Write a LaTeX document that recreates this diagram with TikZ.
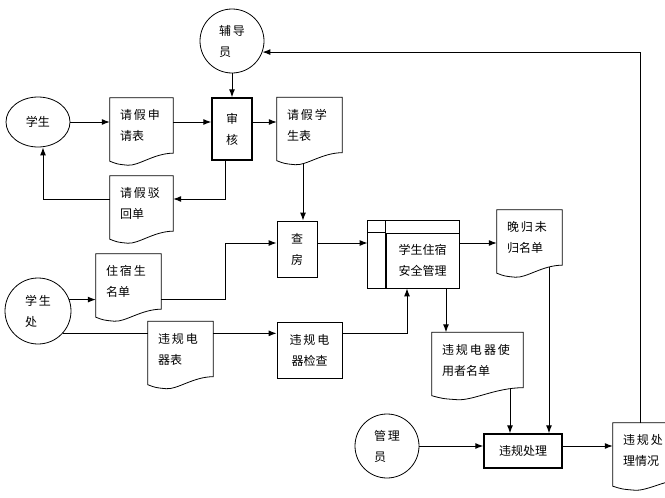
\documentclass[tikz,border=0pt]{standalone}
\usepackage{fontspec}
\newfontfamily\cjk{Noto Sans CJK SC}
\usetikzlibrary{shapes.geometric,calc,arrows.meta}

\begin{document}
\begin{tikzpicture}[x=1pt,y=-1pt,font=\cjk\fontsize{12pt}{21pt}\selectfont,
   execute at begin node={\spaceskip=2pt\relax},
   >={Latex[length=8pt,width=6pt]},
   box/.style={draw,line width=0.8pt,align=center,inner sep=0pt},
   circ/.style={draw,line width=0.8pt,circle,minimum size=#1,inner sep=0pt,align=left},
   doc/.style={text width=#1,inner xsep=10pt,inner ysep=0pt,minimum height=55pt,align=left,
      append after command={\pgfextra{
         \draw[line width=0.8pt] let \p1=(\tikzlastnode.south west), \p2=(\tikzlastnode.north east), \n1={\x2-\x1} in
            (\x1,\y2) -- (\x2,\y2) -- (\x2,\y1)
            .. controls ({\x2-0.3*\n1},\y1) and ({\x1+0.45*\n1},{\y1-13pt}) .. ({\x1+0.28*\n1},{\y1-12pt})
            .. controls ({\x1+0.12*\n1},{\y1-11pt}) .. (\x1,{\y1-8pt}) -- cycle;}}},
   proc/.style={box,minimum width=73pt,minimum height=55pt,
      append after command={\pgfextra{
         \draw[line width=0.8pt] (\tikzlastnode.south west) -- ++(-18pt,0pt) |- ([yshift=12pt]\tikzlastnode.north east)
            -- (\tikzlastnode.north east)
            ([xshift=-18pt]\tikzlastnode.north west) -- (\tikzlastnode.north west);
         \draw[line width=1.4pt] (\tikzlastnode.south west) -- ([yshift=12pt]\tikzlastnode.north west);}}},
   flow/.style={->,line width=1pt}]

\useasboundingbox (0,0) rectangle (665,498);

% upper part: leave request
\node[circ=64pt] (fdy) at (232,41) {辅 导\\员};
\node[draw,line width=0.8pt,ellipse,minimum width=64pt,minimum height=50pt,inner sep=0pt] (xs) at (38,122) {学生};
\node[doc=43pt] (qjsq) at (141.5,125.5) {请 假 申\\请表};
\node[box,line width=1.4pt,minimum width=40pt,minimum height=62pt] (sh) at (232,129) {审\\核};
\node[doc=45pt] (qjxs) at (309.5,125) {请 假 学\\生表};
\node[doc=43pt] (qjbh) at (141.5,203.5) {请 假 驳\\回单};

% middle part
\node[box,minimum width=40pt,minimum height=56pt] (cf) at (297,249) {查\\房};
\node[proc] (glzs) at (422.5,260.5) {学生住宿\\安全管理};
\node[doc=45pt] (wgwg) at (529.5,237.5) {晚 归 未\\归名单};
\node[circ=66pt] (xsc) at (38,311) {学 生\\处};
\node[doc=45pt] (zsmd) at (128.5,281.5) {住 宿 生\\名单};
\node[doc=45pt] (wgb) at (180.5,349) {违 规 电\\器表};
\node[box,minimum width=65pt,minimum height=56pt] (wgjc) at (309.5,350) {违 规 电\\器检查};
\node[doc=71pt] (wgdq) at (477.5,360) {违 规 电 器 使\\用者名单};

% lower part
\node[circ=64pt] (gly) at (387,446) {管 理\\员};
\node[box,line width=1.4pt,minimum width=78pt,minimum height=34pt] (wgcl) at (523,451) {违规处理};
\node[doc=58pt] (wgqk) at (652,450.5) {违 规 处\\理情况};

% connectors
\draw[flow] (xs) -- (xs -| qjsq.west);
\draw[flow] (qjsq.east |- xs) -- (sh.west |- xs);
\draw[flow] (sh.east |- xs) -- (qjxs.west |- xs);
\draw[flow] (fdy) -- (sh);
\draw[flow] ([xshift=-7pt]sh.south) |- ([yshift=4.5pt]qjbh.east);
\draw[flow] ([yshift=4.5pt]qjbh.west) -| ([xshift=5pt]xs.south);
\draw[flow] ([xshift=-6.5pt,yshift=-11pt]qjxs.south) -- ([xshift=-6.5pt]cf.north -| qjxs.south);
\draw[flow] (xsc.20) -- (xsc.20 -| zsmd.west);
\draw[flow] (zsmd.east |- xsc.20) -- ++(64,0) |- ([yshift=6pt]cf.west);
\draw[line width=1pt] (xsc.-42) -- (xsc.-42 -| wgb.west);
\draw[flow] (wgb.east |- xsc.-42) -- (wgjc.west |- xsc.-42);
\draw[flow] ([yshift=6pt]cf.east) -- ([xshift=-18pt,yshift=6pt]glzs.west |- cf.east);
\draw[flow] ([yshift=6pt]glzs.east |- cf.east) -- ([yshift=6pt]wgwg.west |- cf.east);
\draw[flow] (wgjc.east |- xsc.-42) -| ([xshift=-15.5pt]glzs.south);
\draw[flow] ([xshift=23.5pt]glzs.south) -- ([xshift=23.5pt]glzs.south |- wgdq.north);
\draw[flow] ([xshift=19.5pt,yshift=-2pt]wgwg.south) -- ([xshift=19.5pt]wgwg.south |- wgcl.north);
\draw[flow] ([xshift=32.5pt,yshift=-1pt]wgdq.south) -- ([xshift=32.5pt]wgdq.south |- wgcl.north);
\draw[flow] (gly) -- (gly -| wgcl.west);
\draw[flow] (gly -| wgcl.east) -- (gly -| wgqk.west);
\draw[flow] ([xshift=-12pt]wgqk.north) |- (fdy.-20);
\end{tikzpicture}
\end{document}
